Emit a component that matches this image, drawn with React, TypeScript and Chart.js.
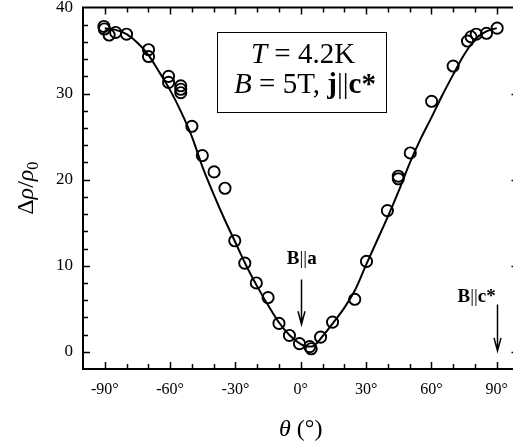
import React, { useEffect, useRef } from "react";
import { Chart, registerables } from "chart.js";

Chart.register(...registerables);

// Measured points (theta in degrees, Δρ/ρ0)
const pointTheta = [
  -90.4, -90.2, -88.0, -85.0, -80.0, -69.9, -69.9, -60.7, -60.7, -55.1, -55.1, -55.1,
  -50.0, -45.2, -39.8, -34.8, -30.3, -25.7, -20.4, -15.0, -10.0, -5.2, -0.6, 4.1, 4.8,
  9.1, 14.6, 24.8, 30.2, 39.8, 44.8, 44.8, 50.3, 60.1, 70.0, 76.6, 78.2, 80.6, 85.3, 90.2,
];
const pointRho = [
  37.8, 37.5, 36.8, 37.1, 36.9, 35.1, 34.3, 32.0, 31.3, 30.9, 30.5, 30.1,
  26.2, 22.8, 20.9, 19.0, 12.9, 10.3, 8.0, 6.3, 3.3, 1.9, 0.95, 0.6, 0.35,
  1.7, 3.45, 6.1, 10.5, 16.4, 20.4, 20.1, 23.1, 29.1, 33.2, 36.1, 36.6, 36.9, 37.0, 37.6,
];

// Fitted curve
const fitTheta = [
  -90, -85, -80, -75, -70, -65, -60, -55, -50, -45, -40, -35, -30, -25, -20, -15, -10, -5,
  0, 3, 5, 10, 15, 20, 25, 30, 35, 40, 45, 50, 55, 60, 65, 70, 75, 80, 85, 90,
];
const fitRho = [
  37.6, 37.4, 36.9, 35.9, 34.5, 32.5, 30.4, 27.9, 25.0, 21.4, 18.3, 15.4, 12.7, 10.0, 7.6,
  5.4, 3.4, 1.9, 0.9, 0.6, 0.6, 1.8, 3.4, 5.1, 7.2, 10.1, 12.9, 15.7, 18.7, 21.9, 24.7, 27.2,
  29.8, 32.2, 34.5, 36.3, 37.2, 37.6,
];

const xTickValues = [-90, -60, -30, 0, 30, 60, 90];
const yTickValues = [0, 10, 20, 30, 40];

const SERIF = '"Liberation Serif", "Times New Roman", serif';

type Run = { t: string; f: string; dy?: number };

function drawRuns(
  ctx: CanvasRenderingContext2D,
  runs: Run[],
  x0: number,
  baseline: number,
  align: "center" | "left" | "right" = "center"
) {
  let total = 0;
  for (const r of runs) {
    ctx.font = r.f;
    total += ctx.measureText(r.t).width;
  }
  let x = align === "center" ? x0 - total / 2 : align === "right" ? x0 - total : x0;
  ctx.textAlign = "left";
  ctx.textBaseline = "alphabetic";
  for (const r of runs) {
    ctx.font = r.f;
    ctx.fillText(r.t, x, baseline + (r.dy || 0));
    x += ctx.measureText(r.t).width;
  }
}

function drawArrow(ctx: CanvasRenderingContext2D, x: number, y1: number, y2: number) {
  ctx.beginPath();
  ctx.moveTo(x, y1);
  ctx.lineTo(x, y2);
  ctx.moveTo(x - 3.5, y2 - 13);
  ctx.lineTo(x, y2);
  ctx.lineTo(x + 3.5, y2 - 13);
  ctx.stroke();
}

const decor = {
  id: "decor",
  afterDraw(chart: any) {
    const { ctx, chartArea: a, scales } = chart;
    const xs = scales.x;
    const ys = scales.y;
    ctx.save();
    ctx.strokeStyle = "#000";
    ctx.fillStyle = "#000";

    // frame
    ctx.lineWidth = 2;
    ctx.strokeRect(a.left, a.top, a.right - a.left, a.bottom - a.top);

    // inward ticks
    ctx.lineWidth = 1.5;
    ctx.beginPath();
    for (let v = -90; v <= 90; v += 10) {
      const px = Math.round(xs.getPixelForValue(v)) + 0.5;
      const len = v % 30 === 0 ? 7 : 5;
      ctx.moveTo(px, a.bottom);
      ctx.lineTo(px, a.bottom - len);
      ctx.moveTo(px, a.top);
      ctx.lineTo(px, a.top + len);
    }
    for (let v = 0; v <= 38; v += 2) {
      const py = Math.round(ys.getPixelForValue(v)) + 0.5;
      const len = v % 10 === 0 ? 7 : 5;
      ctx.moveTo(a.left, py);
      ctx.lineTo(a.left + len, py);
      ctx.moveTo(a.right, py);
      ctx.lineTo(a.right - len, py);
    }
    ctx.stroke();

    // axis titles
    const cy = (a.top + a.bottom) / 2;
    ctx.save();
    ctx.translate(25, cy);
    ctx.rotate(-Math.PI / 2);
    drawRuns(
      ctx,
      [
        { t: "Δ", f: `24px ${SERIF}` },
        { t: "ρ", f: `italic 24px ${SERIF}` },
        { t: "/", f: `24px ${SERIF}` },
        { t: "ρ", f: `italic 24px ${SERIF}` },
        { t: "0", f: `16px ${SERIF}`, dy: 5 },
      ],
      0,
      8,
      "center"
    );
    ctx.restore();

    drawRuns(
      ctx,
      [
        { t: "θ", f: `italic 24px ${SERIF}` },
        { t: " (°)", f: `24px ${SERIF}` },
      ],
      xs.getPixelForValue(0),
      436,
      "center"
    );

    // legend box
    ctx.lineWidth = 1;
    ctx.strokeRect(217.5, 32.5, 169, 80);
    drawRuns(
      ctx,
      [
        { t: "T", f: `italic 29px ${SERIF}` },
        { t: " = 4.2K", f: `29px ${SERIF}` },
      ],
      303,
      63,
      "center"
    );
    drawRuns(
      ctx,
      [
        { t: "B", f: `italic 29px ${SERIF}` },
        { t: " = 5T, ", f: `29px ${SERIF}` },
        { t: "j", f: `bold 29px ${SERIF}` },
        { t: "||", f: `29px ${SERIF}` },
        { t: "c*", f: `bold 29px ${SERIF}` },
      ],
      305,
      93,
      "center"
    );

    // direction annotations
    ctx.lineWidth = 1.5;
    const ax = xs.getPixelForValue(0);
    drawRuns(
      ctx,
      [
        { t: "B", f: `bold 19px ${SERIF}` },
        { t: "||", f: `19px ${SERIF}` },
        { t: "a", f: `bold 19px ${SERIF}` },
      ],
      ax + 1,
      ys.getPixelForValue(10.25),
      "center"
    );
    drawArrow(ctx, Math.round(ax) + 0.5, ys.getPixelForValue(8.4), ys.getPixelForValue(3.2));

    const cx = xs.getPixelForValue(90);
    drawRuns(
      ctx,
      [
        { t: "B", f: `bold 19px ${SERIF}` },
        { t: "||", f: `19px ${SERIF}` },
        { t: "c*", f: `bold 19px ${SERIF}` },
      ],
      cx - 1,
      ys.getPixelForValue(5.8),
      "right"
    );
    drawArrow(ctx, Math.round(cx) + 0.5, ys.getPixelForValue(5.5), ys.getPixelForValue(0.1));

    ctx.restore();
  },
};

export default function App() {
  const canvasRef = useRef<HTMLCanvasElement | null>(null);

  useEffect(() => {
    const canvas = canvasRef.current;
    if (!canvas) return;
    const chart = new Chart(canvas, {
      type: "scatter",
      data: {
        datasets: [
          {
            label: "fit",
            data: fitTheta.map((t, i) => ({ x: t, y: fitRho[i] })),
            showLine: true,
            pointRadius: 0,
            borderColor: "#000",
            borderWidth: 2,
            cubicInterpolationMode: "monotone",
            order: 2,
          } as any,
          {
            label: "data",
            data: pointTheta.map((t, i) => ({ x: t, y: pointRho[i] })),
            showLine: false,
            pointRadius: 5.6,
            pointBorderWidth: 1.9,
            pointBorderColor: "#000",
            pointBackgroundColor: "rgba(0,0,0,0)",
            order: 1,
          } as any,
        ],
      },
      options: {
        responsive: false,
        animation: false,
        layout: { padding: { top: 5, right: 2, left: 0, bottom: 0 } },
        plugins: { legend: { display: false }, tooltip: { enabled: false } },
        scales: {
          x: {
            type: "linear",
            min: -100,
            max: 100,
            afterBuildTicks: (s: any) => {
              s.ticks = xTickValues.map((v) => ({ value: v }));
            },
            afterFit: (s: any) => {
              s.height = 79;
              s.paddingLeft = 0;
              s.paddingRight = 0;
            },
            grid: { display: false, drawTicks: false },
            border: { display: false },
            ticks: {
              color: "#000",
              padding: 11,
              maxRotation: 0,
              autoSkip: false,
              font: { family: SERIF, size: 16 },
              callback: (v: any) => `${v}°`,
            },
          },
          y: {
            type: "linear",
            min: -2,
            max: 40,
            afterBuildTicks: (s: any) => {
              s.ticks = yTickValues.map((v) => ({ value: v }));
            },
            afterFit: (s: any) => {
              s.width = 83;
              s.paddingTop = 0;
              s.paddingBottom = 0;
            },
            grid: { display: false, drawTicks: false },
            border: { display: false },
            ticks: {
              color: "#000",
              padding: 10,
              autoSkip: false,
              font: { family: SERIF, size: 17 },
              callback: (v: any) => `${v}`,
            },
          },
        },
      } as any,
      plugins: [decor],
    });
    return () => chart.destroy();
  }, []);

  return (
    <div
      style={{
        position: "fixed",
        left: 0,
        top: 0,
        width: 513,
        height: 448,
        overflow: "hidden",
        background: "#fff",
      }}
    >
      <canvas ref={canvasRef} width={526} height={448} style={{ display: "block" }} />
    </div>
  );
}
